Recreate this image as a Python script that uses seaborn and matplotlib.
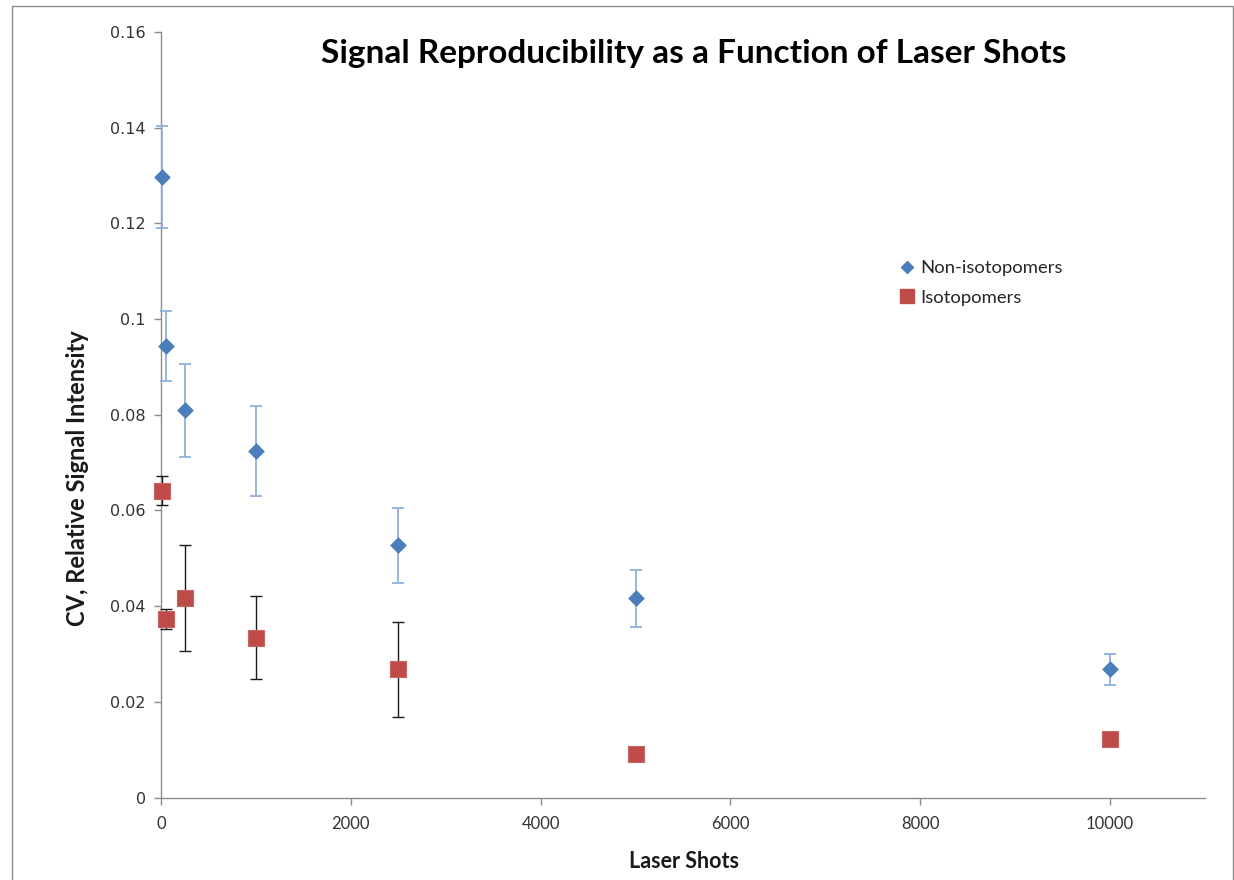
import matplotlib
matplotlib.use("Agg")
import matplotlib.pyplot as plt
import matplotlib.patches as mpatches
from matplotlib.ticker import FuncFormatter, MultipleLocator
import seaborn as sns
import pandas as pd

# ---- data ----
shots = [10, 50, 250, 1000, 2500, 5000, 10000]
non_iso = [0.1297, 0.0943, 0.0809, 0.0724, 0.0527, 0.0416, 0.0268]
non_iso_err = [0.0107, 0.0073, 0.0097, 0.0094, 0.0079, 0.0059, 0.0032]
iso = [0.0641, 0.0373, 0.0417, 0.0334, 0.0268, 0.0091, 0.0123]
iso_err = [0.0030, 0.0020, 0.0110, 0.0087, 0.0099, 0.0, 0.0]
series_names = ["Non-isotopomers", "Isotopomers"]

title = "Signal Reproducibility as a Function of Laser Shots"
xlabel = "Laser Shots"
ylabel = "CV, Relative Signal Intensity"

blue = "#4A7EBB"
blue_err = "#8EB1DD"
red = "#BE4B48"

sns.set_theme(style="white")
plt.rcParams["font.family"] = ["Lato", "DejaVu Sans"]

df = pd.DataFrame({
    "shots": shots * 2,
    "cv": non_iso + iso,
    "series": [series_names[0]] * len(shots) + [series_names[1]] * len(shots),
})

fig = plt.figure(figsize=(12.34, 8.80), dpi=100)
ax = fig.add_axes([161 / 1234, 1 - 797.5 / 880, (1205 - 161) / 1234, (797.5 - 32) / 880])

# error bars
ax.errorbar(shots, non_iso, yerr=non_iso_err, fmt="none", ecolor=blue_err,
            elinewidth=1.3, capsize=4.5, capthick=1.3, zorder=2)
iso_x = [s for s, e in zip(shots, iso_err) if e > 0]
iso_y = [v for v, e in zip(iso, iso_err) if e > 0]
iso_e = [e for e in iso_err if e > 0]
ax.errorbar(iso_x, iso_y, yerr=iso_e, fmt="none", ecolor="#1a1a1a",
            elinewidth=1.0, capsize=4.5, capthick=1.0, zorder=2)

sns.scatterplot(data=df[df.series == series_names[0]], x="shots", y="cv",
                marker="D", s=64, color=blue, edgecolor=blue, linewidth=0.5,
                ax=ax, zorder=3, legend=False, clip_on=False)
sns.scatterplot(data=df[df.series == series_names[1]], x="shots", y="cv",
                marker="s", s=118, color=red, edgecolor="#C86562", linewidth=0.8,
                ax=ax, zorder=3, legend=False, clip_on=False)
for coll in ax.collections:
    coll.set_clip_on(False)
for ln in ax.lines:
    ln.set_clip_on(False)

ax.set_xlim(0, 11000)
ax.set_ylim(0, 0.16)
ax.xaxis.set_major_locator(MultipleLocator(2000))
ax.yaxis.set_major_locator(MultipleLocator(0.02))
ax.yaxis.set_major_formatter(FuncFormatter(lambda v, p: f"{v:g}" if abs(v) > 1e-12 else "0"))
ax.xaxis.set_major_formatter(FuncFormatter(lambda v, p: f"{int(round(v))}"))

for s in ["top", "right"]:
    ax.spines[s].set_visible(False)
for s in ["left", "bottom"]:
    ax.spines[s].set_color("#8C8C8C")
    ax.spines[s].set_linewidth(1.0)
    ax.spines[s].set_zorder(1)
ax.tick_params(axis="both", direction="out", length=5, width=1.0, color="#8C8C8C",
               colors="#333333", bottom=True, left=True)
ax.tick_params(axis="x", pad=8)
ax.tick_params(axis="y", pad=6)
for lab in ax.get_yticklabels():
    lab.set_fontfamily("DejaVu Sans")
    lab.set_fontsize(11.5)
for lab in ax.get_xticklabels():
    lab.set_fontfamily("Lato")
    lab.set_fontsize(12)
ax.set_xlabel("")
ax.set_ylabel("")
ax.grid(False)

fig.text(694 / 1234, 1 - 53 / 880, title, ha="center", va="center",
         fontsize=24, fontweight="bold", color="black")
fig.text(684 / 1234, 1 - 861 / 880, xlabel, ha="center", va="center",
         fontsize=15.5, fontweight="bold", color="#1a1a1a")
fig.text(78 / 1234, 1 - 478 / 880, ylabel, ha="center", va="center",
         rotation=90, fontsize=17, fontweight="bold", color="#1a1a1a")

# legend
handles = [
    plt.Line2D([], [], marker="D", linestyle="none", markersize=6.2, color=blue),
    plt.Line2D([], [], marker="s", linestyle="none", markersize=10.5, color=red),
]
fig.legend(handles, series_names, loc="upper left",
           bbox_to_anchor=(900 / 1234, 1 - 260 / 880), frameon=False,
           fontsize=13.3, handlelength=0.75, handletextpad=0.35, labelspacing=0.75,
           borderaxespad=0, borderpad=0)

# outer chart border
fig.patches.append(mpatches.Rectangle((12 / 1234, -0.01), 1 - 13 / 1234, 1 - 6 / 880 + 0.01,
                                      transform=fig.transFigure, fill=False,
                                      edgecolor="#8C8C8C", linewidth=1.0))

fig.savefig("out.png", dpi=100)
